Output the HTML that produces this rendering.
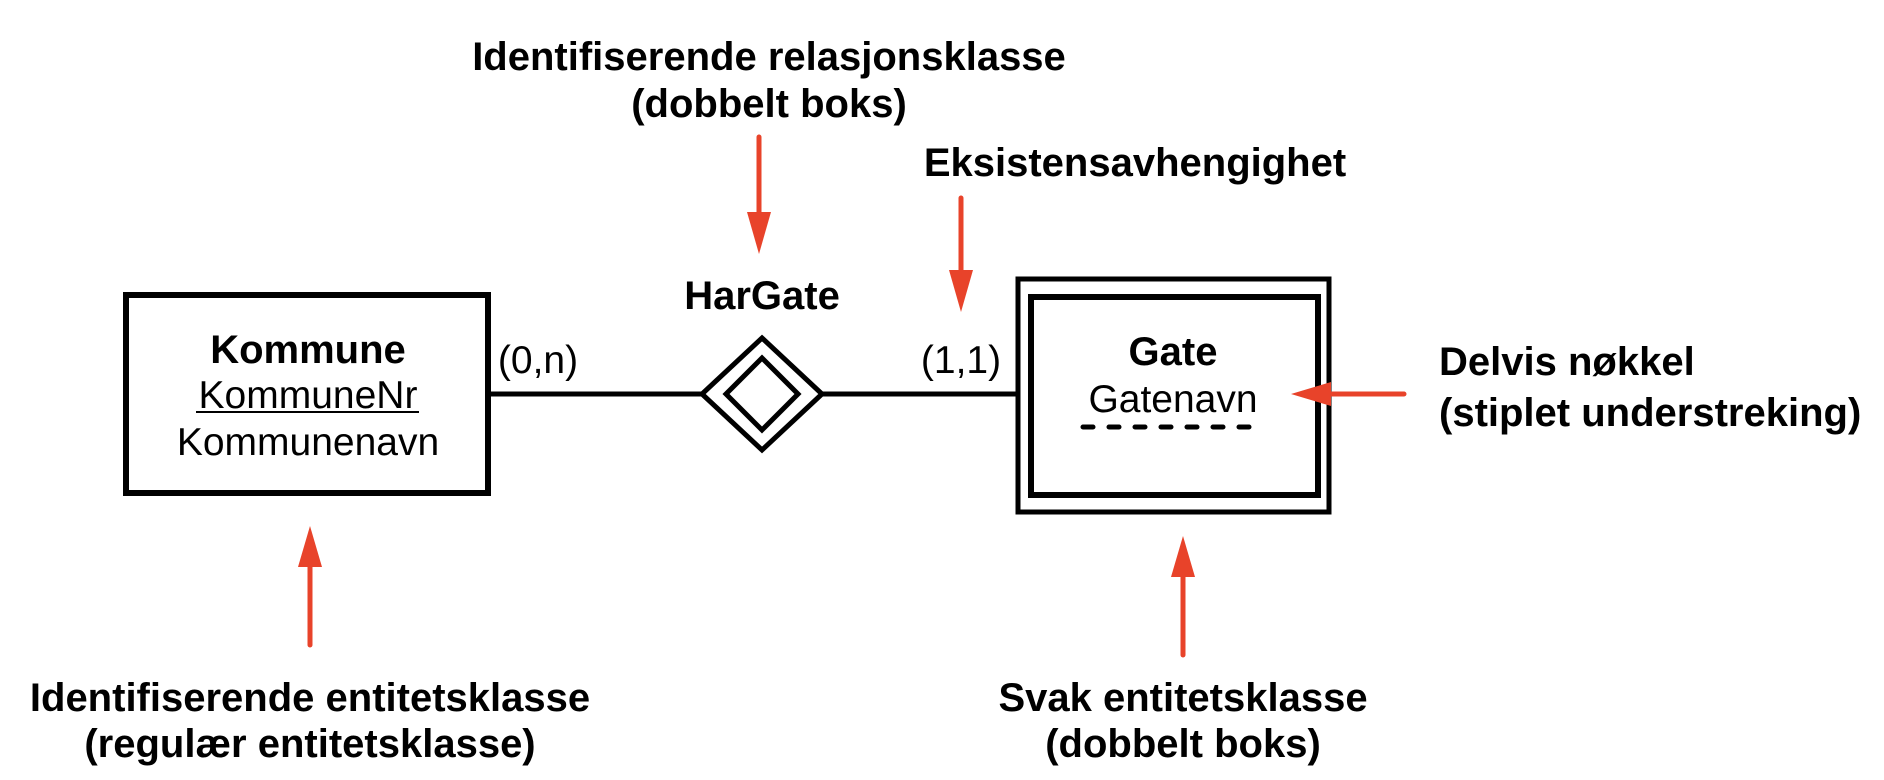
<!DOCTYPE html>
<html><head><meta charset="utf-8"><style>
html,body{margin:0;padding:0;background:#fff;}
svg{display:block;}
text{font-family:"Liberation Sans",Arial,sans-serif;fill:#000;}
.b{font-weight:bold;font-size:40px;}
.r{font-size:39px;}
</style></head><body>
<svg width="1884" height="780" viewBox="0 0 1884 780" xmlns="http://www.w3.org/2000/svg">
<line x1="489" y1="394" x2="1018" y2="394" stroke="#000" stroke-width="5"/>
<rect x="126" y="295" width="362" height="198" fill="#fff" stroke="#000" stroke-width="6"/>
<polygon points="762,338 822,394 762,450 702,394" fill="#fff" stroke="#000" stroke-width="5"/>
<polygon points="762,358 798,394 762,430 726,394" fill="none" stroke="#000" stroke-width="5"/>
<rect x="1018" y="279" width="311" height="233" fill="#fff" stroke="#000" stroke-width="5"/>
<rect x="1031" y="297" width="287" height="198" fill="none" stroke="#000" stroke-width="6"/>
<line x1="1083" y1="427" x2="1259" y2="427" stroke="#000" stroke-width="5" stroke-dasharray="10,16" stroke-linecap="round"/>

<text class="b" x="308" y="363" text-anchor="middle">Kommune</text>
<text class="r" x="308" y="408" text-anchor="middle">KommuneNr</text>
<line x1="196" y1="412" x2="419" y2="412" stroke="#000" stroke-width="2"/>
<text class="r" x="308" y="455" text-anchor="middle">Kommunenavn</text>
<text class="b" x="1173" y="365" text-anchor="middle">Gate</text>
<text class="r" x="1173" y="412" text-anchor="middle">Gatenavn</text>
<text class="b" x="762" y="309" text-anchor="middle">HarGate</text>
<text class="r" x="538" y="373" text-anchor="middle">(0,n)</text>
<text class="r" x="961" y="373" text-anchor="middle">(1,1)</text>

<text class="b" x="769" y="70" text-anchor="middle">Identifiserende relasjonsklasse</text>
<text class="b" x="769" y="117" text-anchor="middle">(dobbelt boks)</text>
<text class="b" x="1135" y="176" text-anchor="middle">Eksistensavhengighet</text>
<text class="b" x="1439" y="375">Delvis nøkkel</text>
<text class="b" x="1439" y="426">(stiplet understreking)</text>
<text class="b" x="310" y="711" text-anchor="middle">Identifiserende entitetsklasse</text>
<text class="b" x="310" y="757" text-anchor="middle">(regulær entitetsklasse)</text>
<text class="b" x="1183" y="711" text-anchor="middle">Svak entitetsklasse</text>
<text class="b" x="1183" y="757" text-anchor="middle">(dobbelt boks)</text>

<g stroke="#e8432a" stroke-width="5" stroke-linecap="round" fill="#e8432a">
<line x1="759" y1="137" x2="759" y2="215"/>
<polygon points="747,212 771,212 759,254" stroke="none"/>
<line x1="961" y1="198" x2="961" y2="272"/>
<polygon points="949,270 973,270 961,312" stroke="none"/>
<line x1="1404" y1="394" x2="1328" y2="394"/>
<polygon points="1331,382 1331,406 1291,394" stroke="none"/>
<line x1="310" y1="645" x2="310" y2="565"/>
<polygon points="298,567 322,567 310,526" stroke="none"/>
<line x1="1183" y1="655" x2="1183" y2="575"/>
<polygon points="1171,577 1195,577 1183,536" stroke="none"/>
</g>
</svg>
</body></html>
